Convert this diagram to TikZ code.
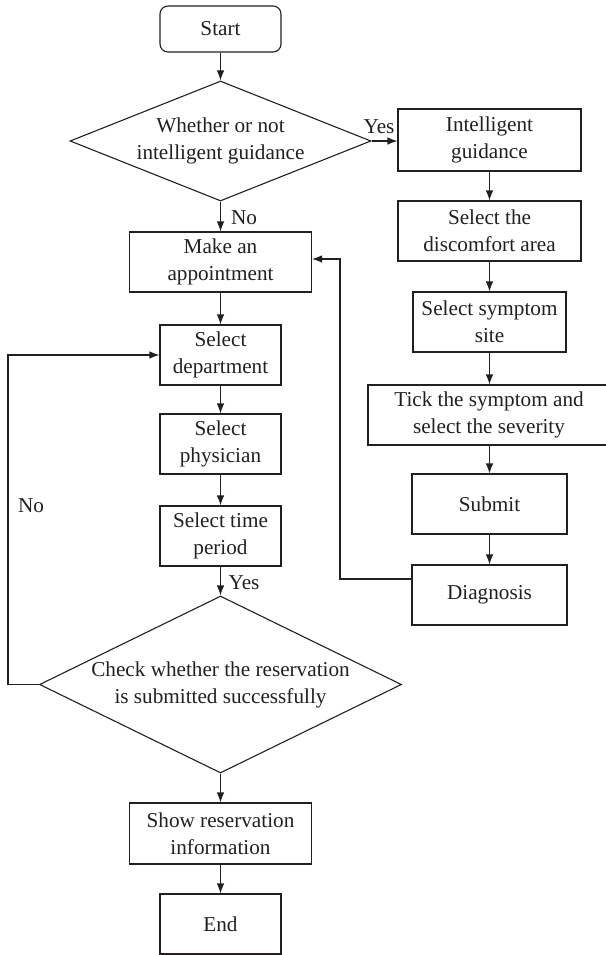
\documentclass[tikz,border=0pt]{standalone}
\usepackage{fontspec}
\setmainfont{Liberation Serif}
\usetikzlibrary{shapes.geometric,arrows.meta,calc}
\definecolor{ink}{HTML}{231F20}
\begin{document}
\begin{tikzpicture}[x=1pt,y=-1pt,
  font=\fontsize{21.2}{27}\selectfont,
  box/.style={draw=ink,text=ink,line width=1.1pt,rectangle,align=center,inner sep=0pt,minimum height=60pt},
  rbox/.style={box,rounded corners=8pt},
  dia/.style={draw=ink,text=ink,line width=1.1pt,diamond,align=center,inner sep=-2pt},
  lbl/.style={text=ink,inner sep=0pt},
  arr/.style={draw=ink,line width=1.1pt,-{Latex[length=10pt,width=7.5pt]}},
  ln/.style={draw=ink,line width=1.1pt}
]
\useasboundingbox (0,0) rectangle (605,955);
% left column
\node[rbox,minimum width=121pt,minimum height=46pt] (start) at (220.5,29) {Start};
\node[dia,minimum width=301pt,minimum height=120pt,aspect=2.5] (d1) at (220.5,141) {Whether or not\\intelligent guidance};
\node[box,minimum width=182pt] (ma) at (220.5,262) {Make an\\appointment};
\node[box,minimum width=121pt] (sd) at (220.5,355) {Select\\department};
\node[box,minimum width=121pt] (sp) at (220.5,444) {Select\\physician};
\node[box,minimum width=121pt] (st) at (220.5,536) {Select time\\period};
\node[dia,minimum width=362pt,minimum height=177pt,aspect=2.05] (d2) at (220.5,684.5) {Check whether the reservation\\is submitted successfully};
\node[box,minimum width=182pt,minimum height=61pt] (sr) at (220.5,833.5) {Show reservation\\information};
\node[box,minimum width=121pt] (end) at (220.5,924) {End};
% right column
\node[box,minimum width=183pt,minimum height=62pt] (ig) at (489.5,140) {Intelligent\\guidance};
\node[box,minimum width=183pt] (da) at (489.5,231) {Select the\\discomfort area};
\node[box,minimum width=153pt] (ss) at (489.5,322) {Select symptom\\site};
\node[box,minimum width=242pt] (tk) at (489,415) {Tick the symptom and\\select the severity};
\node[box,minimum width=155pt] (sub) at (489.5,504) {Submit};
\node[box,minimum width=155pt] (dg) at (489.5,595) {Diagnosis};
% labels
\node[lbl] (yes1) at (379,127) {Yes};
\node[lbl] (no1) at (244,218) {No};
\node[lbl] (yes2) at (244,583) {Yes};
\node[lbl] (no2) at (31,506) {No};
% coordinates
\coordinate (c1) at (340,579);
\coordinate (c2) at (340,259);
\coordinate (l1) at (8,684.5);
\coordinate (l2) at (8,355);
% connectors
\draw[arr] (start) -- (d1.north);
\draw[arr] (d1.east) -- (d1.east -| ig.west);
\draw[arr] (d1.south) -- (ma.north);
\draw[arr] (ma) -- (sd);
\draw[arr] (sd) -- (sp);
\draw[arr] (sp) -- (st);
\draw[arr] (st) -- (d2.north);
\draw[arr] (d2.south) -- (sr.north);
\draw[arr] (sr) -- (end);
\draw[arr] (ig) -- (da);
\draw[arr] (da) -- (ss);
\draw[arr] (ss) -- (ss |- tk.north);
\draw[arr] (sub |- tk.south) -- (sub);
\draw[arr] (sub) -- (dg);
\draw[arr] (dg.west |- c1) -- (c1) -- (c2) -- (ma.east |- c2);
\draw[arr] (d2.west) -- (l1) -- (l2) -- (sd.west);
\end{tikzpicture}
\end{document}
